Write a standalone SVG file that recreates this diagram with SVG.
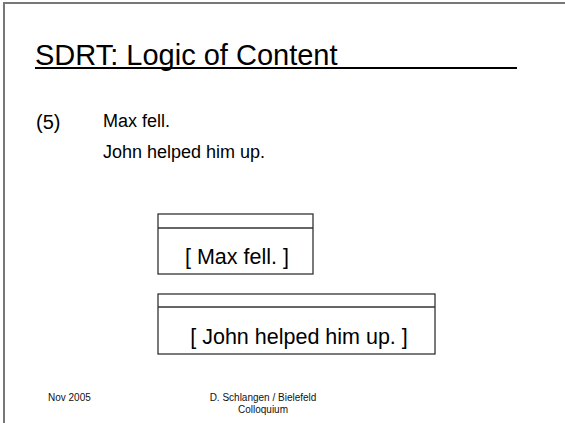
<svg xmlns="http://www.w3.org/2000/svg" width="565" height="423" viewBox="0 0 565 423">
  <style>
    .t { font-family: "Liberation Sans", Arial, sans-serif; fill: #000; }
    .box { fill: #fff; stroke: #333; stroke-width: 1.3; }
    .sep { stroke: #333; stroke-width: 1.3; }
    .drs { font-size: 21.5px; text-anchor: middle; }
    .foot { font-size: 10px; fill: #111; }
  </style>
  <rect width="565" height="423" fill="#fff"/>
  <!-- slide frame -->
  <path d="M4,423 V3 H565" fill="none" stroke="#777" stroke-width="2"/>
  <!-- title -->
  <g id="title">
    <text class="t" x="35" y="65" font-size="29">SDRT: Logic of Content</text>
    <line x1="35" y1="68" x2="517" y2="68" stroke="#000" stroke-width="2"/>
  </g>
  <!-- example sentences -->
  <g id="example">
    <text class="t" x="36" y="129" font-size="20">(5)</text>
    <text class="t" x="103" y="127" font-size="18">Max fell.</text>
    <text class="t" x="103" y="158" font-size="18">John helped him up.</text>
  </g>
  <!-- DRS boxes -->
  <g id="drs1">
    <rect class="box" x="158" y="214" width="155" height="60"/>
    <line class="sep" x1="158" y1="228" x2="313" y2="228"/>
    <text class="t drs" x="237" y="264">[ Max fell. ]</text>
  </g>
  <g id="drs2">
    <rect class="box" x="158" y="294" width="277" height="60"/>
    <line class="sep" x1="158" y1="307" x2="435" y2="307"/>
    <text class="t drs" x="299" y="344">[ John helped him up. ]</text>
  </g>
  <!-- footer -->
  <g id="footer">
    <text class="t foot" x="48" y="401" font-size="10.5">Nov 2005</text>
    <text class="t foot" x="263" y="401" text-anchor="middle">D. Schlangen / Bielefeld</text>
    <text class="t foot" x="263" y="413" text-anchor="middle">Colloquium</text>
  </g>
</svg>
